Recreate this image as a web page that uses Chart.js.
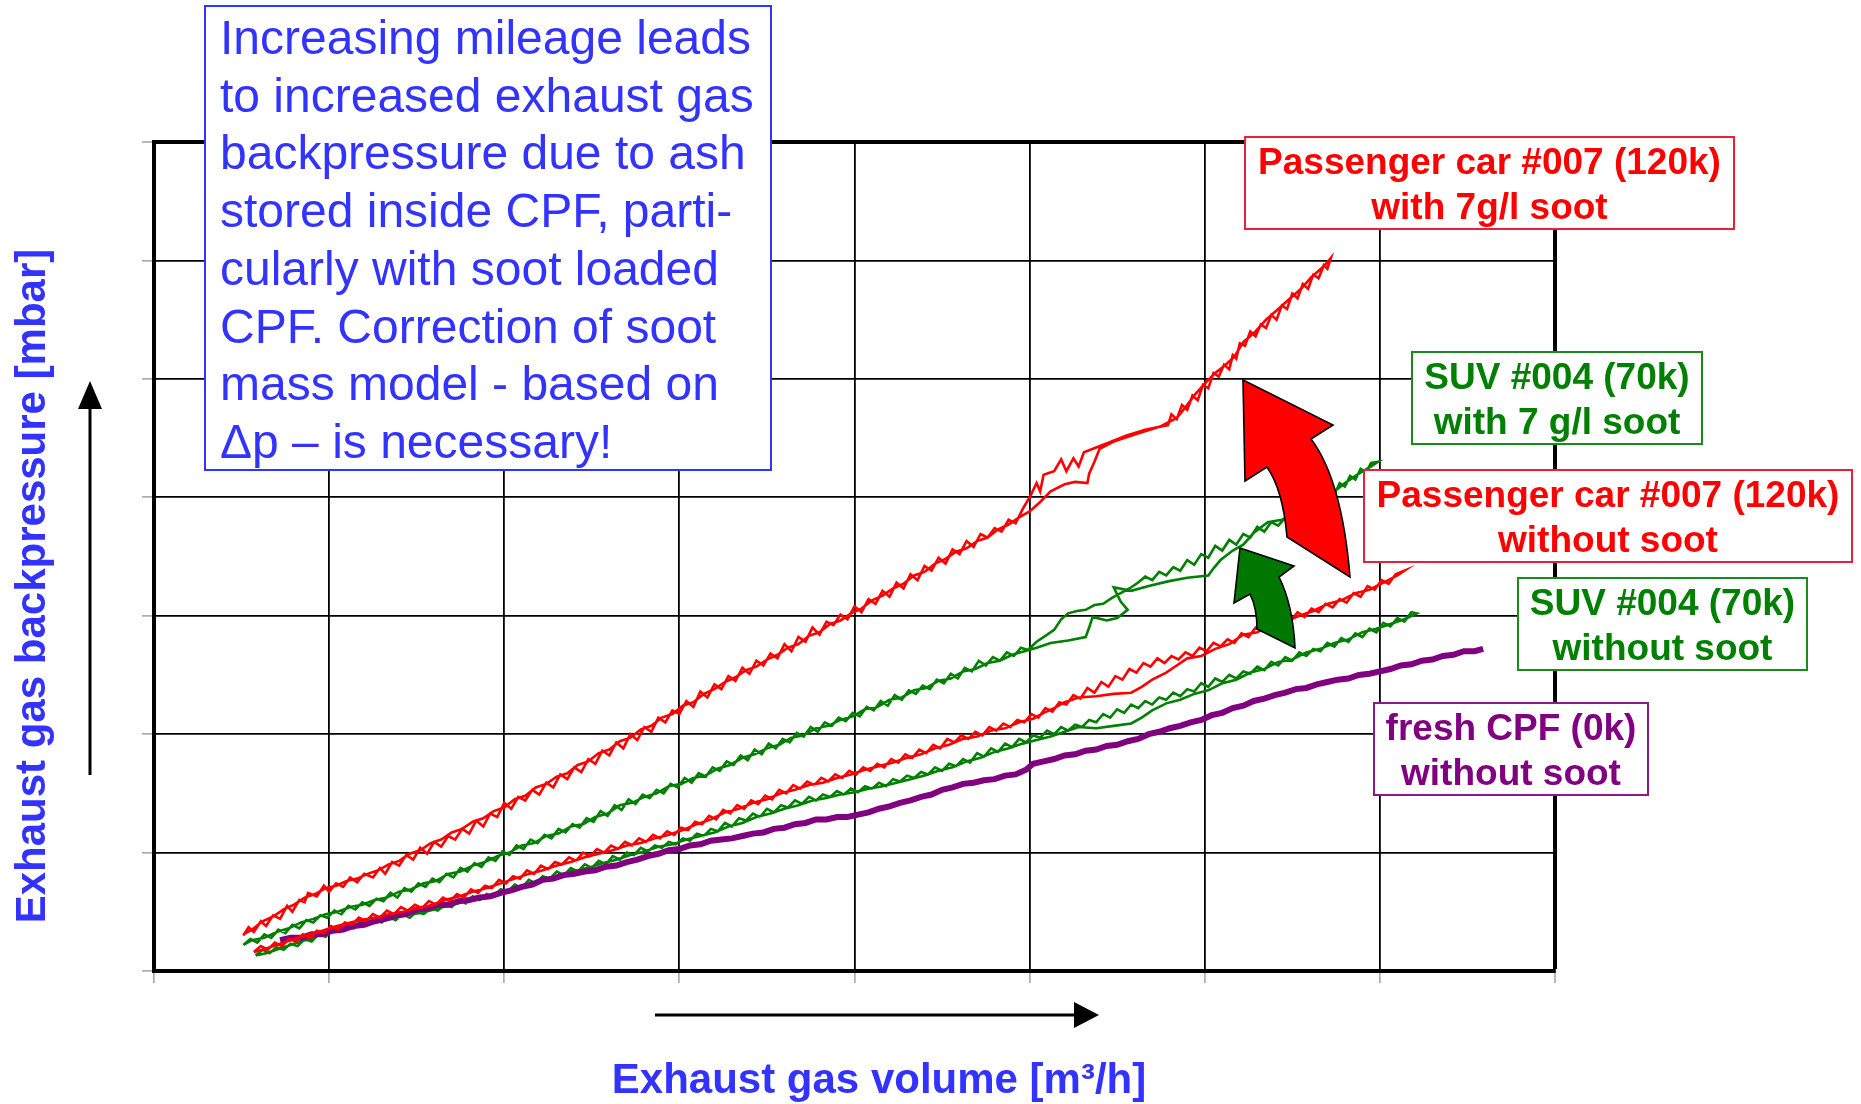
<!DOCTYPE html>
<html>
<head>
<meta charset="utf-8">
<script src="https://cdn.jsdelivr.net/npm/chart.js@4.4.1/dist/chart.umd.min.js"></script>
<style>
  html, body { margin: 0; padding: 0; background: #ffffff; }
  canvas { display: block; }
</style>
</head>
<body>
<canvas id="cpf" width="1861" height="1104"></canvas>
<script>
// Axis ranges (grid units, no numeric tick labels are shown)
const volumeMax = 8;
const pressureMax = 7;

// Measured traces: [exhaust gas volume, backpressure] in grid units.
// Each trace runs up the flow range and back down again.
const redSootTrace = [
  [0.51,0.30],[0.54,0.37],[0.57,0.33],[0.61,0.42],[0.64,0.38],[0.68,0.47],[0.72,0.44],[0.76,0.55],[0.79,0.50],[0.83,0.60],
  [0.86,0.58],[0.88,0.66],[0.93,0.63],[0.97,0.72],[1.00,0.67],[1.04,0.74],[1.08,0.71],[1.12,0.79],[1.16,0.75],[1.20,0.82],
  [1.25,0.79],[1.29,0.87],[1.32,0.82],[1.36,0.92],[1.40,0.89],[1.44,0.98],[1.48,0.94],[1.52,1.04],[1.56,0.99],[1.60,1.09],
  [1.64,1.05],[1.68,1.14],[1.72,1.11],[1.76,1.20],[1.80,1.16],[1.84,1.27],[1.88,1.22],[1.92,1.33],[1.96,1.30],[2.00,1.42],
  [2.04,1.37],[2.08,1.47],[2.12,1.44],[2.16,1.53],[2.20,1.49],[2.24,1.59],[2.28,1.55],[2.32,1.66],[2.36,1.62],[2.40,1.72],
  [2.44,1.68],[2.48,1.79],[2.52,1.75],[2.56,1.86],[2.60,1.82],[2.64,1.93],[2.68,1.88],[2.72,2.00],[2.76,1.95],[2.80,2.06],
  [2.84,2.02],[2.88,2.14],[2.92,2.10],[2.96,2.20],[3.00,2.17],[3.04,2.28],[3.08,2.23],[3.12,2.36],[3.16,2.31],[3.20,2.42],
  [3.24,2.38],[3.28,2.49],[3.32,2.45],[3.36,2.56],[3.40,2.51],[3.44,2.62],[3.48,2.58],[3.52,2.68],[3.56,2.64],[3.60,2.76],
  [3.64,2.70],[3.68,2.82],[3.72,2.78],[3.76,2.90],[3.80,2.84],[3.84,2.95],[3.88,2.92],[3.92,3.01],[3.96,2.97],[4.00,3.08],
  [4.04,3.03],[4.08,3.14],[4.12,3.10],[4.16,3.21],[4.20,3.16],[4.24,3.28],[4.28,3.23],[4.32,3.35],[4.36,3.30],[4.40,3.42],
  [4.44,3.38],[4.48,3.49],[4.52,3.44],[4.56,3.56],[4.60,3.52],[4.64,3.63],[4.68,3.58],[4.72,3.69],[4.76,3.66],[4.80,3.74],
  [4.84,3.71],[4.88,3.81],[4.92,3.78],[4.96,3.90],[5.00,4.00],[5.04,4.12],[5.06,4.05],[5.08,4.19],[5.14,4.22],[5.18,4.32],
  [5.21,4.22],[5.25,4.33],[5.28,4.26],[5.31,4.38],[5.38,4.42],[5.45,4.46],[5.55,4.52],[5.66,4.57],[5.79,4.61],[5.81,4.70],
  [5.84,4.66],[5.87,4.78],[5.90,4.74],[5.93,4.86],[5.96,4.82],[5.99,4.95],[6.02,4.92],[6.05,5.05],[6.08,5.02],[6.11,5.12],
  [6.14,5.08],[6.16,5.20],[6.18,5.17],[6.20,5.30],[6.23,5.28],[6.26,5.40],[6.29,5.36],[6.32,5.46],[6.35,5.43],[6.38,5.54],
  [6.41,5.50],[6.44,5.62],[6.47,5.59],[6.50,5.72],[6.53,5.68],[6.56,5.80],[6.59,5.76],[6.62,5.88],[6.65,5.85],[6.68,5.96],
  [6.70,5.93],[6.72,6.02],
  [6.68,5.95],[6.61,5.86],[6.55,5.76],[6.48,5.67],[6.42,5.59],[6.35,5.50],[6.29,5.40],[6.22,5.31],[6.17,5.19],[6.12,5.12],
  [6.06,5.05],[6.00,4.96],[5.94,4.86],[5.89,4.76],[5.84,4.67],[5.75,4.60],[5.60,4.53],[5.48,4.47],[5.40,4.41],[5.37,4.30],
  [5.34,4.20],[5.33,4.12],[5.26,4.13],[5.20,4.11],[5.12,4.05],[5.06,3.96],[5.00,3.88],[4.94,3.83],[4.88,3.77],[4.82,3.73],
  [4.76,3.66],[4.70,3.63],[4.64,3.57],[4.58,3.54],[4.52,3.48],[4.46,3.44],[4.40,3.37],[4.34,3.34],[4.28,3.27],[4.22,3.23],
  [4.16,3.17],[4.10,3.13],[4.04,3.06],[3.98,3.02],[3.92,2.96],[3.86,2.93],[3.80,2.86],[3.74,2.83],[3.68,2.76],[3.62,2.73],
  [3.56,2.67],[3.50,2.63],[3.44,2.57],[3.38,2.54],[3.32,2.48],[3.26,2.44],[3.20,2.38],[3.14,2.34],[3.08,2.27],[3.02,2.24],
  [2.96,2.17],[2.90,2.14],[2.84,2.07],[2.78,2.04],[2.72,1.97],[2.66,1.94],[2.60,1.87],[2.54,1.84],[2.48,1.77],[2.42,1.74],
  [2.36,1.67],[2.30,1.64],[2.24,1.58],[2.18,1.55],[2.12,1.48],[2.06,1.45],[2.00,1.38],[1.94,1.35],[1.88,1.29],[1.82,1.26],
  [1.76,1.20],[1.70,1.17],[1.64,1.11],[1.58,1.08],[1.52,1.02],[1.46,0.99],[1.40,0.93],[1.34,0.90],[1.28,0.85],[1.22,0.82],
  [1.16,0.78],[1.10,0.76],[1.04,0.72],[0.98,0.70],[0.92,0.65],[0.86,0.62],[0.80,0.56],[0.74,0.52],[0.68,0.46],[0.62,0.42],
  [0.56,0.35],[0.51,0.31]
];

const greenSootTrace = [
  [0.51,0.22],[0.55,0.27],[0.59,0.24],[0.63,0.31],[0.67,0.28],[0.71,0.35],[0.75,0.32],[0.79,0.39],[0.83,0.36],[0.87,0.43],
  [0.91,0.41],[0.95,0.47],[0.99,0.45],[1.03,0.51],[1.07,0.48],[1.11,0.55],[1.15,0.52],[1.19,0.58],[1.23,0.55],[1.27,0.61],
  [1.31,0.59],[1.35,0.66],[1.39,0.62],[1.43,0.70],[1.47,0.67],[1.51,0.74],[1.55,0.71],[1.59,0.78],[1.63,0.75],[1.67,0.82],
  [1.71,0.79],[1.75,0.87],[1.79,0.84],[1.83,0.91],[1.87,0.88],[1.91,0.96],[1.95,0.93],[1.99,1.01],[2.03,0.98],[2.07,1.06],
  [2.11,1.03],[2.15,1.11],[2.19,1.08],[2.23,1.15],[2.27,1.12],[2.31,1.20],[2.35,1.17],[2.39,1.24],[2.43,1.21],[2.47,1.29],
  [2.51,1.26],[2.55,1.35],[2.59,1.31],[2.63,1.40],[2.67,1.36],[2.71,1.45],[2.75,1.41],[2.79,1.49],[2.83,1.46],[2.87,1.53],
  [2.91,1.50],[2.95,1.58],[2.99,1.55],[3.03,1.63],[3.07,1.59],[3.11,1.67],[3.15,1.64],[3.19,1.72],[3.23,1.69],[3.27,1.77],
  [3.31,1.74],[3.35,1.82],[3.39,1.78],[3.43,1.87],[3.47,1.83],[3.51,1.92],[3.55,1.88],[3.59,1.96],[3.63,1.93],[3.67,2.01],
  [3.71,1.98],[3.75,2.06],[3.79,2.02],[3.83,2.10],[3.87,2.07],[3.91,2.14],[3.95,2.11],[3.99,2.18],[4.03,2.15],[4.07,2.23],
  [4.11,2.20],[4.15,2.28],[4.19,2.24],[4.23,2.33],[4.27,2.29],[4.31,2.37],[4.35,2.34],[4.39,2.41],[4.43,2.38],[4.47,2.46],
  [4.51,2.43],[4.55,2.51],[4.59,2.47],[4.63,2.56],[4.67,2.53],[4.71,2.62],[4.75,2.58],[4.79,2.65],[4.83,2.62],[4.87,2.69],
  [4.91,2.66],[4.95,2.73],[4.99,2.71],[5.04,2.78],[5.09,2.83],[5.14,2.88],[5.18,2.97],[5.22,3.02],[5.27,3.04],[5.32,3.05],
  [5.37,3.09],[5.42,3.10],[5.47,3.15],[5.52,3.19],[5.57,3.23],[5.62,3.28],[5.66,3.33],[5.70,3.30],[5.74,3.37],[5.78,3.34],
  [5.82,3.41],[5.86,3.38],[5.90,3.47],[5.94,3.43],[5.98,3.52],[6.02,3.49],[6.06,3.59],[6.10,3.55],[6.14,3.64],[6.18,3.60],
  [6.22,3.69],[6.26,3.66],[6.30,3.75],[6.34,3.71],[6.38,3.79],[6.42,3.76],[6.46,3.83],[6.50,3.80],[6.54,3.87],[6.58,3.84],
  [6.62,3.92],[6.65,3.97],[6.68,3.94],[6.71,4.05],[6.74,4.02],[6.77,4.12],[6.80,4.09],[6.83,4.18],[6.86,4.15],[6.89,4.24],
  [6.92,4.21],[6.95,4.29],[6.99,4.30],
  [6.95,4.26],[6.88,4.20],[6.81,4.13],[6.74,4.05],[6.67,3.97],[6.60,3.90],[6.52,3.86],[6.44,3.81],[6.36,3.79],[6.28,3.70],
  [6.22,3.60],[6.16,3.55],[6.09,3.47],[6.05,3.40],[6.02,3.34],[5.90,3.32],[5.79,3.29],[5.68,3.25],[5.58,3.21],[5.48,3.24],
  [5.52,3.12],[5.56,3.05],[5.50,2.98],[5.44,2.96],[5.36,2.99],[5.34,2.90],[5.32,2.82],[5.22,2.79],[5.12,2.77],[5.04,2.73],
  [4.97,2.70],[4.90,2.67],[4.83,2.62],[4.76,2.60],[4.69,2.55],[4.62,2.53],[4.55,2.47],[4.48,2.45],[4.41,2.39],[4.34,2.37],
  [4.27,2.31],[4.20,2.29],[4.13,2.23],[4.06,2.21],[3.99,2.15],[3.92,2.12],[3.85,2.07],[3.78,2.05],[3.71,1.99],[3.64,1.97],
  [3.57,1.91],[3.50,1.88],[3.43,1.83],[3.36,1.80],[3.29,1.74],[3.22,1.71],[3.15,1.65],[3.08,1.63],[3.01,1.58],[2.94,1.56],
  [2.87,1.50],[2.80,1.47],[2.73,1.42],[2.66,1.40],[2.59,1.33],[2.52,1.30],[2.45,1.24],[2.38,1.22],[2.31,1.16],[2.24,1.14],
  [2.17,1.08],[2.10,1.06],[2.03,1.00],[1.96,0.97],[1.89,0.92],[1.82,0.89],[1.75,0.84],[1.68,0.82],[1.61,0.76],[1.54,0.74],
  [1.47,0.69],[1.40,0.67],[1.33,0.62],[1.26,0.60],[1.19,0.56],[1.12,0.54],[1.05,0.50],[0.98,0.48],[0.91,0.44],[0.84,0.41],
  [0.77,0.36],[0.70,0.33],[0.63,0.28],[0.56,0.26],[0.51,0.22]
];

const redCleanTrace = [
  [0.57,0.16],[0.61,0.21],[0.65,0.18],[0.69,0.24],[0.73,0.21],[0.77,0.27],[0.81,0.25],[0.85,0.31],[0.89,0.28],[0.93,0.34],
  [0.97,0.32],[1.01,0.38],[1.05,0.35],[1.09,0.41],[1.13,0.39],[1.17,0.45],[1.21,0.42],[1.25,0.48],[1.29,0.45],[1.33,0.51],
  [1.37,0.48],[1.41,0.54],[1.45,0.51],[1.49,0.56],[1.53,0.53],[1.57,0.59],[1.61,0.56],[1.65,0.62],[1.69,0.59],[1.73,0.65],
  [1.77,0.62],[1.81,0.69],[1.85,0.66],[1.89,0.72],[1.93,0.70],[1.97,0.77],[2.01,0.74],[2.05,0.80],[2.09,0.78],[2.13,0.85],
  [2.17,0.82],[2.21,0.89],[2.25,0.86],[2.29,0.92],[2.33,0.90],[2.37,0.96],[2.41,0.93],[2.45,1.00],[2.49,0.97],[2.53,1.03],
  [2.57,1.00],[2.61,1.06],[2.65,1.03],[2.69,1.09],[2.73,1.06],[2.77,1.12],[2.81,1.09],[2.85,1.15],[2.89,1.12],[2.93,1.18],
  [2.97,1.15],[3.01,1.21],[3.05,1.19],[3.09,1.26],[3.13,1.24],[3.17,1.31],[3.21,1.28],[3.25,1.36],[3.29,1.33],[3.33,1.40],
  [3.37,1.37],[3.41,1.44],[3.45,1.41],[3.49,1.48],[3.53,1.45],[3.57,1.53],[3.61,1.50],[3.65,1.57],[3.69,1.54],[3.73,1.60],
  [3.77,1.57],[3.81,1.63],[3.85,1.60],[3.89,1.66],[3.93,1.63],[3.97,1.69],[4.01,1.66],[4.05,1.72],[4.09,1.69],[4.13,1.75],
  [4.17,1.72],[4.21,1.79],[4.25,1.76],[4.29,1.83],[4.33,1.80],[4.37,1.87],[4.41,1.84],[4.45,1.91],[4.49,1.88],[4.53,1.96],
  [4.57,1.93],[4.61,1.99],[4.65,1.96],[4.69,2.02],[4.73,1.99],[4.77,2.06],[4.81,2.03],[4.85,2.09],[4.89,2.06],[4.93,2.12],
  [4.97,2.10],[5.01,2.17],[5.05,2.14],[5.09,2.22],[5.13,2.19],[5.17,2.27],[5.21,2.25],[5.25,2.33],[5.29,2.30],[5.33,2.39],
  [5.37,2.35],[5.41,2.44],[5.45,2.40],[5.49,2.49],[5.53,2.46],[5.57,2.55],[5.61,2.52],[5.65,2.60],[5.69,2.57],[5.73,2.64],
  [5.77,2.60],[5.81,2.66],[5.85,2.63],[5.89,2.69],[5.93,2.66],[5.97,2.73],[6.01,2.70],[6.05,2.77],[6.09,2.74],[6.13,2.80],
  [6.17,2.77],[6.21,2.85],[6.25,2.82],[6.29,2.90],[6.33,2.87],[6.37,2.94],[6.41,2.91],[6.45,2.98],[6.49,2.95],[6.53,3.03],
  [6.57,2.99],[6.61,3.06],[6.65,3.03],[6.69,3.10],[6.73,3.07],[6.77,3.14],[6.81,3.11],[6.85,3.19],[6.89,3.16],[6.93,3.25],
  [6.97,3.22],[7.01,3.30],[7.05,3.27],[7.09,3.35],[7.14,3.38],
  [7.10,3.34],[7.02,3.28],[6.94,3.22],[6.86,3.19],[6.78,3.13],[6.70,3.10],[6.62,3.04],[6.54,3.00],[6.46,2.95],[6.38,2.93],
  [6.30,2.86],[6.22,2.84],[6.14,2.76],[6.06,2.72],[5.98,2.66],[5.90,2.64],[5.84,2.58],[5.78,2.52],[5.70,2.46],[5.64,2.40],
  [5.58,2.35],[5.48,2.34],[5.38,2.32],[5.28,2.31],[5.20,2.27],[5.14,2.22],[5.08,2.18],[5.02,2.13],[4.94,2.10],[4.86,2.05],
  [4.78,2.03],[4.70,1.98],[4.62,1.96],[4.54,1.91],[4.46,1.88],[4.38,1.83],[4.30,1.80],[4.22,1.76],[4.14,1.73],[4.06,1.70],
  [3.98,1.66],[3.90,1.63],[3.82,1.59],[3.74,1.57],[3.66,1.53],[3.58,1.50],[3.50,1.45],[3.42,1.42],[3.34,1.37],[3.26,1.34],
  [3.18,1.28],[3.10,1.24],[3.02,1.19],[2.94,1.15],[2.86,1.12],[2.78,1.08],[2.70,1.06],[2.62,1.02],[2.54,0.99],[2.46,0.96],
  [2.38,0.92],[2.30,0.89],[2.22,0.85],[2.14,0.82],[2.06,0.78],[1.98,0.74],[1.90,0.70],[1.82,0.67],[1.74,0.63],[1.66,0.60],
  [1.58,0.55],[1.50,0.53],[1.42,0.50],[1.34,0.48],[1.26,0.45],[1.18,0.43],[1.10,0.40],[1.02,0.37],[0.94,0.33],[0.86,0.30],
  [0.78,0.26],[0.70,0.22],[0.62,0.18],[0.57,0.16]
];

const greenCleanTrace = [
  [0.58,0.13],[0.62,0.18],[0.66,0.15],[0.70,0.20],[0.74,0.18],[0.78,0.23],[0.82,0.21],[0.86,0.27],[0.90,0.25],[0.94,0.31],
  [0.98,0.29],[1.02,0.35],[1.06,0.33],[1.10,0.39],[1.14,0.36],[1.18,0.42],[1.22,0.39],[1.26,0.44],[1.30,0.41],[1.34,0.46],
  [1.38,0.43],[1.42,0.48],[1.46,0.45],[1.50,0.50],[1.54,0.48],[1.58,0.53],[1.62,0.51],[1.66,0.56],[1.70,0.54],[1.74,0.60],
  [1.78,0.57],[1.82,0.63],[1.86,0.60],[1.90,0.65],[1.94,0.63],[1.98,0.69],[2.02,0.67],[2.06,0.73],[2.10,0.70],[2.14,0.77],
  [2.18,0.74],[2.22,0.80],[2.26,0.78],[2.30,0.84],[2.34,0.81],[2.38,0.87],[2.42,0.84],[2.46,0.90],[2.50,0.87],[2.54,0.93],
  [2.58,0.90],[2.62,0.97],[2.66,0.94],[2.70,1.00],[2.74,0.98],[2.78,1.04],[2.82,1.01],[2.86,1.06],[2.90,1.04],[2.94,1.09],
  [2.98,1.07],[3.02,1.12],[3.06,1.10],[3.10,1.16],[3.14,1.14],[3.18,1.20],[3.22,1.18],[3.26,1.25],[3.30,1.22],[3.34,1.29],
  [3.38,1.27],[3.42,1.33],[3.46,1.30],[3.50,1.37],[3.54,1.34],[3.58,1.40],[3.62,1.38],[3.66,1.44],[3.70,1.41],[3.74,1.47],
  [3.78,1.44],[3.82,1.49],[3.86,1.47],[3.90,1.52],[3.94,1.49],[3.98,1.54],[4.02,1.51],[4.06,1.56],[4.10,1.54],[4.14,1.59],
  [4.18,1.56],[4.22,1.62],[4.26,1.60],[4.30,1.65],[4.34,1.63],[4.38,1.68],[4.42,1.66],[4.46,1.72],[4.50,1.69],[4.54,1.75],
  [4.58,1.73],[4.62,1.79],[4.66,1.76],[4.70,1.84],[4.74,1.81],[4.78,1.88],[4.82,1.85],[4.86,1.92],[4.90,1.89],[4.94,1.96],
  [4.98,1.93],[5.02,1.99],[5.06,1.97],[5.10,2.03],[5.14,2.00],[5.18,2.06],[5.22,2.03],[5.26,2.08],[5.30,2.06],[5.34,2.12],
  [5.38,2.10],[5.42,2.17],[5.46,2.14],[5.50,2.21],[5.54,2.18],[5.58,2.25],[5.62,2.22],[5.66,2.28],[5.70,2.25],[5.74,2.31],
  [5.78,2.29],[5.82,2.35],[5.86,2.32],[5.90,2.38],[5.94,2.36],[5.98,2.43],[6.02,2.40],[6.06,2.47],[6.10,2.44],[6.14,2.50],
  [6.18,2.47],[6.22,2.53],[6.26,2.51],[6.30,2.57],[6.34,2.54],[6.38,2.61],[6.42,2.58],[6.46,2.65],[6.50,2.62],[6.54,2.69],
  [6.58,2.66],[6.62,2.72],[6.66,2.70],[6.70,2.77],[6.74,2.74],[6.78,2.81],[6.82,2.78],[6.86,2.85],[6.90,2.82],[6.94,2.89],
  [6.98,2.86],[7.02,2.94],[7.06,2.91],[7.10,2.98],[7.14,2.95],[7.18,3.03],[7.21,3.02],
  [7.14,2.97],[7.06,2.93],[6.98,2.89],[6.90,2.86],[6.82,2.80],[6.74,2.77],[6.66,2.72],[6.58,2.69],[6.50,2.63],[6.42,2.61],
  [6.34,2.55],[6.26,2.52],[6.18,2.46],[6.10,2.43],[6.02,2.37],[5.94,2.34],[5.86,2.29],[5.78,2.26],[5.70,2.20],[5.64,2.14],
  [5.58,2.09],[5.48,2.07],[5.38,2.05],[5.28,2.06],[5.20,2.02],[5.12,1.98],[5.04,1.95],[4.96,1.92],[4.88,1.88],[4.80,1.85],
  [4.72,1.80],[4.64,1.77],[4.56,1.72],[4.48,1.69],[4.40,1.65],[4.32,1.62],[4.24,1.59],[4.16,1.56],[4.08,1.54],[4.00,1.51],
  [3.92,1.49],[3.84,1.46],[3.76,1.44],[3.68,1.40],[3.60,1.37],[3.52,1.33],[3.44,1.30],[3.36,1.25],[3.28,1.22],[3.20,1.17],
  [3.12,1.14],[3.04,1.11],[2.96,1.07],[2.88,1.05],[2.80,1.01],[2.72,0.98],[2.64,0.94],[2.56,0.91],[2.48,0.87],[2.40,0.85],
  [2.32,0.81],[2.24,0.78],[2.16,0.74],[2.08,0.71],[2.00,0.67],[1.92,0.64],[1.84,0.61],[1.76,0.58],[1.68,0.55],[1.60,0.52],
  [1.52,0.49],[1.44,0.47],[1.36,0.44],[1.28,0.42],[1.20,0.40],[1.12,0.37],[1.04,0.34],[0.96,0.31],[0.88,0.27],[0.80,0.23],
  [0.72,0.19],[0.64,0.15],[0.58,0.13]
];

const freshTrace = [
  [0.72,0.26],[0.78,0.28],[0.84,0.28],[0.90,0.31],[0.96,0.31],[1.02,0.34],[1.08,0.35],[1.14,0.38],[1.20,0.39],[1.26,0.42],
  [1.32,0.44],[1.38,0.47],[1.44,0.48],[1.50,0.52],[1.56,0.53],[1.62,0.56],[1.68,0.56],[1.74,0.59],[1.80,0.60],[1.86,0.62],
  [1.92,0.63],[1.98,0.66],[2.04,0.68],[2.10,0.71],[2.16,0.73],[2.22,0.77],[2.28,0.78],[2.34,0.81],[2.40,0.82],[2.46,0.84],
  [2.52,0.85],[2.58,0.88],[2.64,0.89],[2.70,0.92],[2.76,0.94],[2.82,0.97],[2.88,0.99],[2.94,1.02],[3.00,1.03],[3.06,1.06],
  [3.12,1.07],[3.18,1.10],[3.24,1.11],[3.30,1.12],[3.36,1.14],[3.42,1.16],[3.48,1.17],[3.54,1.20],[3.60,1.21],[3.66,1.24],
  [3.72,1.25],[3.78,1.28],[3.84,1.28],[3.90,1.30],[3.96,1.30],[4.02,1.32],[4.08,1.34],[4.14,1.37],[4.20,1.39],[4.26,1.42],
  [4.32,1.44],[4.38,1.47],[4.44,1.49],[4.50,1.53],[4.56,1.55],[4.62,1.58],[4.68,1.59],[4.74,1.61],[4.80,1.62],[4.86,1.65],
  [4.92,1.66],[4.98,1.70],[5.02,1.75],[5.08,1.77],[5.14,1.79],[5.20,1.82],[5.26,1.83],[5.32,1.86],[5.38,1.87],[5.44,1.90],
  [5.50,1.91],[5.56,1.94],[5.62,1.96],[5.68,2.00],[5.74,2.02],[5.80,2.05],[5.86,2.07],[5.92,2.10],[5.98,2.12],[6.04,2.16],
  [6.10,2.18],[6.16,2.22],[6.22,2.24],[6.28,2.28],[6.34,2.30],[6.40,2.33],[6.46,2.35],[6.52,2.38],[6.58,2.39],[6.64,2.42],
  [6.70,2.44],[6.76,2.46],[6.82,2.47],[6.88,2.50],[6.94,2.51],[7.00,2.53],[7.06,2.55],[7.12,2.58],[7.18,2.59],[7.24,2.62],
  [7.30,2.63],[7.36,2.66],[7.42,2.67],[7.48,2.70],[7.54,2.70],[7.59,2.72]
];

// Explanatory note and series labels
const noteLines = [
  'Increasing mileage leads',
  'to increased exhaust gas',
  'backpressure due to ash',
  'stored inside CPF, parti-',
  'cularly with soot loaded',
  'CPF. Correction of soot',
  'mass model - based on',
  '\u0394p \u2013 is necessary!'
];
const labelRedSoot = ['Passenger car #007 (120k)', 'with 7g/l soot'];
const labelGreenSoot = ['SUV #004 (70k)', 'with 7 g/l soot'];
const labelRedClean = ['Passenger car #007 (120k)', 'without soot'];
const labelGreenClean = ['SUV #004 (70k)', 'without soot'];
const labelFresh = ['fresh CPF (0k)', 'without soot'];
const xTitle = 'Exhaust gas volume [m\u00b3/h]';
const yTitle = 'Exhaust gas backpressure [mbar]';

const RED = '#ff0000';
const GREEN = '#008000';
const PURPLE = '#800080';
const BLUE = '#3333ff';
const FONT = '"Liberation Sans", Arial, Helvetica, sans-serif';

const toPoints = arr => arr.map(p => ({ x: p[0], y: p[1] }));

function traceSet(label, arr, color, width, order) {
  return {
    label, data: toPoints(arr), showLine: true, borderColor: color, backgroundColor: color,
    borderWidth: width, pointRadius: 0, tension: 0, order,
    borderJoinStyle: 'miter', borderCapStyle: 'butt'
  };
}

function drawLabelBox(c, x, y, w, h, lines, color, border) {
  c.save();
  c.fillStyle = '#ffffff';
  c.fillRect(x, y, w, h);
  c.strokeStyle = border;
  c.lineWidth = 2;
  c.strokeRect(x, y, w, h);
  c.fillStyle = color;
  c.font = 'bold 37px ' + FONT;
  c.textAlign = 'center';
  c.textBaseline = 'alphabetic';
  c.fillText(lines[0], x + w / 2, y + 37);
  c.fillText(lines[1], x + w / 2, y + 81.5);
  c.restore();
}

function drawCurvedArrow(c, pts, fill) {
  c.save();
  c.beginPath();
  c.moveTo(pts.tip[0], pts.tip[1]);
  c.lineTo(pts.rBarb[0], pts.rBarb[1]);
  c.lineTo(pts.rNotch[0], pts.rNotch[1]);
  c.quadraticCurveTo(pts.rCtrl[0], pts.rCtrl[1], pts.rEnd[0], pts.rEnd[1]);
  c.lineTo(pts.lEnd[0], pts.lEnd[1]);
  c.quadraticCurveTo(pts.lCtrl[0], pts.lCtrl[1], pts.lNotch[0], pts.lNotch[1]);
  c.lineTo(pts.lBarb[0], pts.lBarb[1]);
  c.closePath();
  c.fillStyle = fill;
  c.fill();
  c.strokeStyle = '#000000';
  c.lineWidth = 1.6;
  c.lineJoin = 'miter';
  c.stroke();
  c.restore();
}

const overlayPlugin = {
  id: 'overlay',
  afterDraw(chart) {
    const c = chart.ctx;

    // Curved arrows showing the rise with soot loading
    drawCurvedArrow(c, {
      tip: [1243, 380], rBarb: [1333, 425], rNotch: [1311, 439], rCtrl: [1342, 480], rEnd: [1350, 577],
      lEnd: [1287, 537], lCtrl: [1283, 490], lNotch: [1267, 467], lBarb: [1245, 481]
    }, '#ff0000');
    drawCurvedArrow(c, {
      tip: [1240, 548], rBarb: [1294, 566], rNotch: [1279, 577], rCtrl: [1293, 605], rEnd: [1295, 648],
      lEnd: [1257, 629], lCtrl: [1257, 608], lNotch: [1250, 594], lBarb: [1234, 603]
    }, '#007800');

    // Note box
    c.save();
    c.fillStyle = '#ffffff';
    c.fillRect(205, 6, 566, 464);
    c.strokeStyle = BLUE;
    c.lineWidth = 2;
    c.strokeRect(205, 6, 566, 464);
    c.fillStyle = BLUE;
    c.font = '48px ' + FONT;
    c.textAlign = 'left';
    c.textBaseline = 'alphabetic';
    noteLines.forEach((t, i) => c.fillText(t, 220, 54 + i * 57.7));
    c.restore();

    // Series labels
    drawLabelBox(c, 1245, 137, 489, 92, labelRedSoot, RED, '#e8203c');
    drawLabelBox(c, 1412, 352, 290, 92, labelGreenSoot, GREEN, '#1a8a1a');
    drawLabelBox(c, 1364, 470, 488, 92, labelRedClean, RED, '#e8203c');
    drawLabelBox(c, 1518, 578, 289, 92, labelGreenClean, GREEN, '#1a8a1a');
    drawLabelBox(c, 1374, 703, 274, 92, labelFresh, PURPLE, '#8a1a8a');

    // Axis direction arrows
    c.save();
    c.strokeStyle = '#000000';
    c.fillStyle = '#000000';
    c.lineWidth = 3;
    c.beginPath();
    c.moveTo(90, 775); c.lineTo(90, 405);
    c.stroke();
    c.beginPath();
    c.moveTo(90, 381); c.lineTo(102, 409); c.lineTo(78, 409); c.closePath();
    c.fill();
    c.beginPath();
    c.moveTo(655, 1015); c.lineTo(1078, 1015);
    c.stroke();
    c.beginPath();
    c.moveTo(1099, 1015); c.lineTo(1074, 1002); c.lineTo(1074, 1028); c.closePath();
    c.fill();
    c.restore();

    // Axis titles
    c.save();
    c.fillStyle = BLUE;
    c.font = 'bold 42px ' + FONT;
    c.textAlign = 'center';
    c.textBaseline = 'alphabetic';
    c.fillText(xTitle, 879, 1093);
    c.translate(45, 586);
    c.rotate(-Math.PI / 2);
    c.fillText(yTitle, 0, 0);
    c.restore();
  }
};

const gridWidth = (max) => (ctx) => (ctx.tick && ctx.tick.value === max ? 4 : 1.8);

new Chart(document.getElementById('cpf'), {
  type: 'scatter',
  data: {
    datasets: [
      traceSet('Passenger car #007 (120k) with 7g/l soot', redSootTrace, RED, 2.6, 1),
      traceSet('Passenger car #007 (120k) without soot', redCleanTrace, RED, 2.6, 2),
      traceSet('fresh CPF (0k) without soot', freshTrace, PURPLE, 6, 3),
      traceSet('SUV #004 (70k) with 7 g/l soot', greenSootTrace, GREEN, 2.6, 4),
      traceSet('SUV #004 (70k) without soot', greenCleanTrace, GREEN, 2.6, 5)
    ]
  },
  options: {
    responsive: false,
    animation: false,
    devicePixelRatio: 1,
    layout: { padding: { left: 0, top: 142, right: 306, bottom: 0 } },
    plugins: { legend: { display: false }, tooltip: { enabled: false } },
    scales: {
      x: {
        type: 'linear', min: 0, max: volumeMax,
        ticks: { stepSize: 1, display: false },
        grid: { color: '#000000', lineWidth: gridWidth(volumeMax), tickLength: 12, tickColor: '#8a8a8a', tickWidth: 1.2 },
        border: { color: '#000000', width: 4 },
        afterFit: s => { s.height = 133; }
      },
      y: {
        type: 'linear', min: 0, max: pressureMax,
        ticks: { stepSize: 1, display: false },
        grid: { color: '#000000', lineWidth: gridWidth(pressureMax), tickLength: 12, tickColor: '#8a8a8a', tickWidth: 1.2 },
        border: { color: '#000000', width: 4 },
        afterFit: s => { s.width = 154; }
      }
    }
  },
  plugins: [overlayPlugin]
});
</script>
</body>
</html>
